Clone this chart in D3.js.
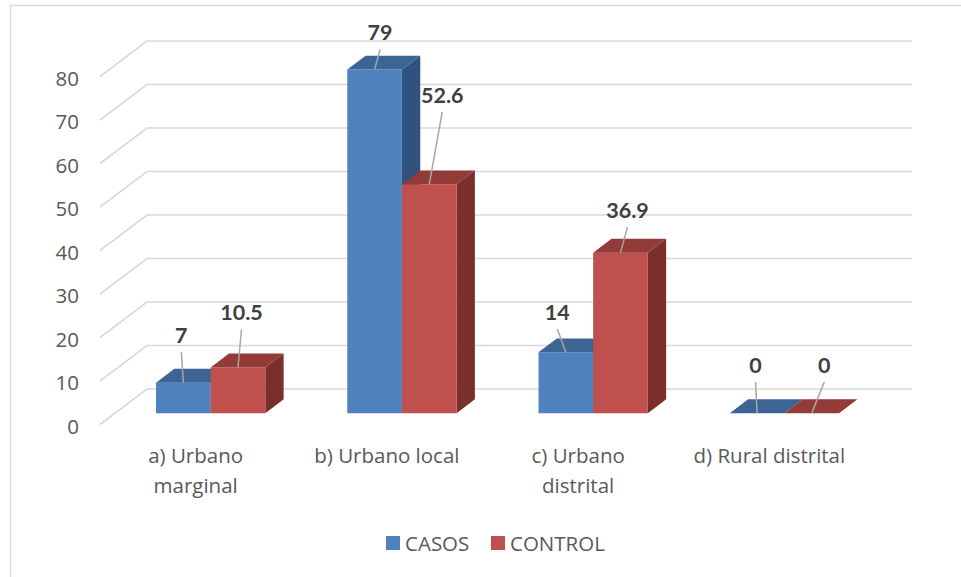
<!DOCTYPE html>
<html>
<head>
<meta charset="utf-8">
<script src="https://cdn.jsdelivr.net/npm/d3@7"></script>
<style>
  body { margin: 0; background: #fff; }
  svg { display: block; font-family: "Open Sans", sans-serif; }
  .lbl { font-family: Lato, sans-serif; }
</style>
</head>
<body>
<svg id="chart" width="961" height="577"></svg>
<script>
// chart data
var categories = ["a) Urbano marginal", "b) Urbano local", "c) Urbano distrital", "d) Rural distrital"];
var categoryLines = [["a) Urbano", "marginal"], ["b) Urbano local"], ["c) Urbano", "distrital"], ["d) Rural distrital"]];
var seriesNames = ["CASOS", "CONTROL"];
var casos = [7, 79, 14, 0];
var control = [10.5, 52.6, 36.9, 0];
var yTicks = [0, 10, 20, 30, 40, 50, 60, 70, 80];

// where each data label was dragged to (relative to the bar top)
var labelNudgeCasos = [[-2, -48], [5.5, -37], [-8.5, -40], [-1.5, -48]];
var labelNudgeControl = [[3.5, -55], [13, -89.5], [7, -42.5], [12.5, -48]];

var colors = {
  CASOS: { front: "#4f81bd", top: "#3c6494", side: "#30527f" },
  CONTROL: { front: "#c0504d", top: "#923b39", side: "#7b2f2d" }
};

var svg = d3.select("#chart");

// 3d look: depth offset of the floor
var DX = 47, DY = 35.5;
var zFront = 0.32, zBack = 0.71;

var x = d3.scaleBand().domain(categories).range([100, 865]);
var xs = d3.scaleBand().domain(seriesNames).range([0, x.bandwidth()]).paddingInner(0).paddingOuter(0.75);
var y = d3.scaleLinear().domain([0, 80]).range([424.5, 76.5]);

function proj(xf, v, z) {
  return [xf + z * DX, y(v) - z * DY];
}

// outer border
svg.append("path")
  .attr("d", "M10.5,577 L10.5,5.5 L961,5.5")
  .attr("fill", "none")
  .attr("stroke", "#d9d9d9")
  .attr("stroke-width", 1.5);

// gridlines (floor edge + back wall)
var grid = svg.append("g");
yTicks.forEach(function(t) {
  var a = proj(100, t, 0), b = proj(100, t, 1), c = proj(865, t, 1);
  grid.append("path")
    .attr("d", "M" + a + " L" + b + " L" + c)
    .attr("fill", "none")
    .attr("stroke", "#d9d9d9")
    .attr("stroke-width", 1.6);
});

// y axis labels
svg.append("g").selectAll("text")
  .data(yTicks)
  .join("text")
  .attr("x", 79)
  .attr("y", d => y(d) + 1)
  .attr("text-anchor", "end")
  .attr("dominant-baseline", "central")
  .attr("fill", "#595959")
  .style("font-size", "20.5px")
  .text(d => d);

// bars
var bars = [];
categories.forEach(function(cat, i) {
  [casos[i], control[i]].forEach(function(v, j) {
    bars.push({ cat: cat, s: seriesNames[j], v: v, nudge: j == 0 ? labelNudgeCasos[i] : labelNudgeControl[i] });
  });
});

var barG = svg.append("g");
bars.forEach(function(b) {
  var x0 = x(b.cat) + xs(b.s), x1 = x0 + xs.bandwidth();
  var c = colors[b.s];
  var g = barG.append("g");
  var fbl = proj(x0, 0, zFront), fbr = proj(x1, 0, zFront);
  var ftl = proj(x0, b.v, zFront), ftr = proj(x1, b.v, zFront);
  var btl = proj(x0, b.v, zBack), btr = proj(x1, b.v, zBack);
  var bbr = proj(x1, 0, zBack);
  if (b.v > 0) {
    // side
    g.append("path").attr("d", "M" + fbr + " L" + ftr + " L" + btr + " L" + bbr + "Z").attr("fill", c.side);
    // front
    g.append("path").attr("d", "M" + fbl + " L" + ftl + " L" + ftr + " L" + fbr + "Z").attr("fill", c.front);
  }
  // top
  g.append("path").attr("d", "M" + ftl + " L" + btl + " L" + btr + " L" + ftr + "Z").attr("fill", c.top);
  b.anchor = [(ftl[0] + ftr[0]) / 2, ftl[1]];
});

// data labels with leader lines
var lab = svg.append("g");
bars.forEach(function(b) {
  var lx = b.anchor[0] + b.nudge[0], ly = b.anchor[1] + b.nudge[1];
  lab.append("line")
    .attr("x1", lx).attr("y1", ly + 17)
    .attr("x2", b.anchor[0]).attr("y2", b.anchor[1])
    .attr("stroke", "#a6a6a6")
    .attr("stroke-width", 1.5);
  lab.append("text")
    .attr("class", "lbl")
    .attr("x", lx)
    .attr("y", ly)
    .attr("text-anchor", "middle")
    .attr("dominant-baseline", "central")
    .attr("fill", "#404040")
    .style("font-size", "21.5px")
    .style("font-weight", "bold")
    .text(b.v);
});

// category labels
var catG = svg.append("g");
categories.forEach(function(cat, i) {
  var cx = x(cat) + x.bandwidth() / 2;
  categoryLines[i].forEach(function(line, k) {
    catG.append("text")
      .attr("x", cx)
      .attr("y", 463 + k * 30)
      .attr("text-anchor", "middle")
      .attr("fill", "#595959")
      .style("font-size", "20.5px")
      .text(line);
  });
});

// legend
var legendX = [386, 491];
var leg = svg.append("g");
seriesNames.forEach(function(s, i) {
  leg.append("rect")
    .attr("x", legendX[i]).attr("y", 536)
    .attr("width", 14).attr("height", 14)
    .attr("fill", colors[s].front);
  leg.append("text")
    .attr("x", legendX[i] + 19)
    .attr("y", 543)
    .attr("dominant-baseline", "central")
    .attr("fill", "#595959")
    .style("font-size", "20.5px")
    .text(s);
});
</script>
</body>
</html>
